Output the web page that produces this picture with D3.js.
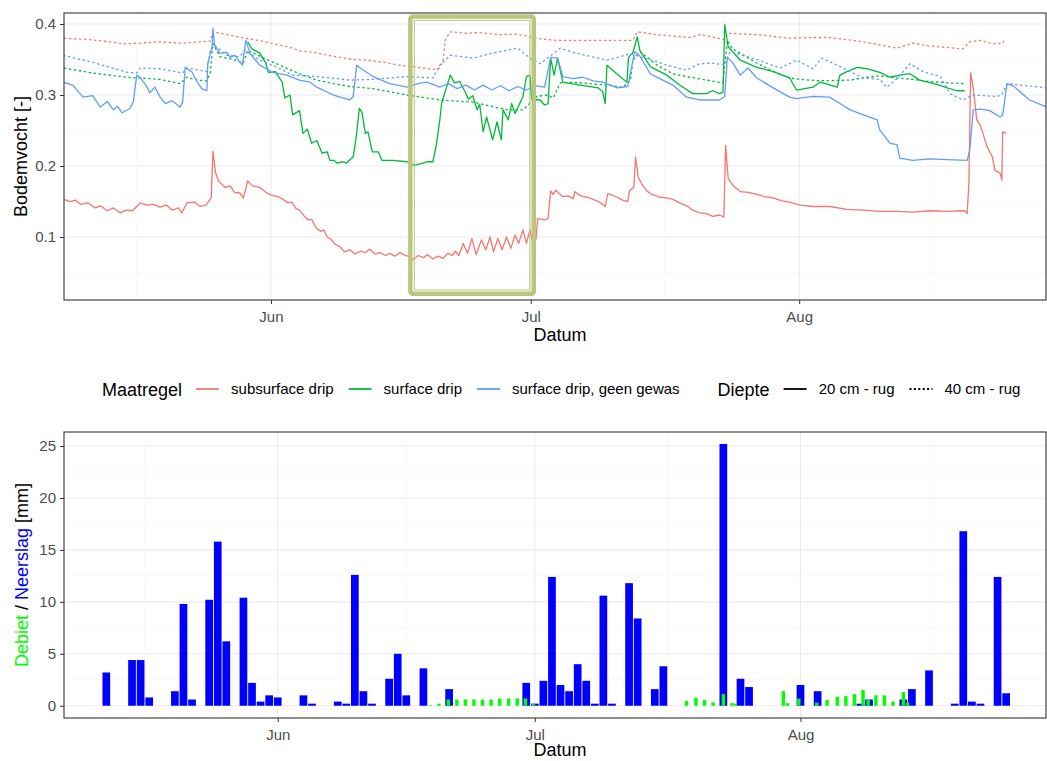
<!DOCTYPE html>
<html lang="nl">
<head>
<meta charset="UTF-8">
<title>Bodemvocht en neerslag</title>
<script src="https://d3js.org/d3.v7.min.js"></script>
<style>
    body { margin: 0; background: #fff; }
    svg { font-family: "Liberation Sans", Arial, sans-serif; }
    .grid-major { stroke: #ebebeb; stroke-width: 1.1; }
    .grid-minor { stroke: #f4f4f4; stroke-width: 0.6; }
    .axis .tick text { fill: #4d4d4d; font-size: 15px; }
    .axis .tick line { stroke: #333; stroke-width: 1; }
    .frame { fill: none; stroke: #333; stroke-width: 1.1; }
    .axis-title { font-size: 18px; fill: #000; }
    .legend-title { font-size: 18px; fill: #000; }
    .legend-label { font-size: 15px; fill: #000; }
</style>
</head>
<body>
<svg id="chart" width="1047" height="761"></svg>
<script>
// tijd in dagen na 1 juni (negatief = mei)
const maatregelen = ["subsurface drip", "surface drip", "surface drip, geen gewas"];
const dieptes = ["20 cm - rug", "40 cm - rug"];
const maandTicks = ["2018-06-01", "2018-07-01", "2018-08-01"];
const maandGrenzen = ["2018-05-01", "2018-06-01", "2018-07-01", "2018-08-01", "2018-09-01"];
const bodemTicks = [0.1, 0.2, 0.3, 0.4];
const bodemMinor = [0.05, 0.15, 0.25, 0.35];
const neerslagTicks = [0, 5, 10, 15, 20, 25];
const neerslagMinor = [2.5, 7.5, 12.5, 17.5, 22.5];

// subsurface drip, 20 cm
const subsurface20 = [[-23.9,0.153],[-23.2,0.150],[-22.6,0.152],[-22.0,0.146],[-21.1,0.148],[-20.3,0.141],[-19.7,0.144],[-18.9,0.137],[-18.2,0.141],[-17.4,0.134],[-16.7,0.138],[-16.0,0.137],[-15.1,0.148],[-14.3,0.145],[-13.6,0.146],[-12.8,0.142],[-12.1,0.145],[-11.4,0.138],[-10.7,0.141],[-10.3,0.134],[-9.7,0.148],[-8.8,0.149],[-8.2,0.143],[-7.5,0.145],[-6.9,0.155],[-6.7,0.221],[-6.4,0.19],[-6.0,0.178],[-5.3,0.170],[-4.7,0.172],[-4.2,0.163],[-3.6,0.162],[-3.2,0.155],[-2.9,0.168],[-2.7,0.179],[-2.1,0.172],[-1.3,0.170],[-0.6,0.163],[0.0,0.159],[0.8,0.157],[1.4,0.153],[2.0,0.148],[2.4,0.149],[2.9,0.140],[3.3,0.138],[3.8,0.130],[4.3,0.124],[4.7,0.125],[5.2,0.113],[5.7,0.108],[6.1,0.110],[6.5,0.100],[6.9,0.097],[7.4,0.090],[8.0,0.086],[8.5,0.079],[9.1,0.082],[9.7,0.076],[10.3,0.080],[10.9,0.078],[11.4,0.083],[12.0,0.076],[12.6,0.078],[13.2,0.074],[13.7,0.077],[14.3,0.073],[14.9,0.078],[15.5,0.074],[16.1,0.072],[16.4,0.068],[17.0,0.074],[17.6,0.071],[18.1,0.075],[18.7,0.069],[19.3,0.073],[19.9,0.070],[20.4,0.077],[20.9,0.074],[21.3,0.080],[21.7,0.074],[22.2,0.091],[22.7,0.077],[23.2,0.098],[23.7,0.075],[24.3,0.096],[24.8,0.082],[25.3,0.100],[25.7,0.079],[26.2,0.098],[26.7,0.082],[27.2,0.100],[27.7,0.084],[28.2,0.103],[28.6,0.091],[29.1,0.110],[29.5,0.091],[29.9,0.110],[30.2,0.094],[30.6,0.097],[30.8,0.126],[31.3,0.125],[31.6,0.124],[32.0,0.126],[32.3,0.165],[32.6,0.160],[32.9,0.166],[33.3,0.161],[33.7,0.157],[34.3,0.158],[34.9,0.154],[35.1,0.164],[35.5,0.160],[36.0,0.157],[36.6,0.156],[37.2,0.153],[37.8,0.150],[38.3,0.146],[38.6,0.143],[38.9,0.161],[39.4,0.159],[40.0,0.156],[40.6,0.152],[41.2,0.150],[41.4,0.165],[41.9,0.170],[42.1,0.213],[42.4,0.185],[42.8,0.175],[43.4,0.165],[44.0,0.160],[44.9,0.156],[45.7,0.155],[46.4,0.153],[47.2,0.148],[48.0,0.144],[48.7,0.138],[49.5,0.134],[50.3,0.133],[51.0,0.129],[51.8,0.131],[52.3,0.128],[52.5,0.229],[52.8,0.182],[53.4,0.172],[54.2,0.164],[55.1,0.163],[56.1,0.160],[57.0,0.157],[58.0,0.155],[59.0,0.151],[59.9,0.149],[61.1,0.145],[62.6,0.143],[64.5,0.143],[66.5,0.139],[68.4,0.138],[70.3,0.136],[72.3,0.136],[74.1,0.135],[76.1,0.137],[78.1,0.136],[80.1,0.137],[80.4,0.133],[80.6,0.177],[80.8,0.331],[81.1,0.31],[81.5,0.265],[81.9,0.258],[82.7,0.227],[83.3,0.213],[83.6,0.194],[84.2,0.19],[84.4,0.18],[84.5,0.248],[84.9,0.246]];

// subsurface drip, 40 cm
const subsurface40 = [[-23.9,0.380],[-21,0.378],[-18,0.374],[-17,0.372],[-15,0.373],[-13,0.375],[-10.5,0.373],[-8,0.375],[-7.0,0.376],[-6.7,0.389],[-5,0.385],[-3.5,0.381],[-1,0.376],[0,0.373],[2,0.368],[3.3,0.362],[5,0.36],[7,0.355],[9.5,0.35],[11.1,0.349],[13,0.346],[14.9,0.342],[17,0.339],[18.7,0.336],[19.5,0.338],[19.9,0.35],[20.1,0.377],[20.7,0.389],[22.6,0.387],[24,0.388],[26.4,0.385],[28,0.386],[29.6,0.383],[31.1,0.379],[33,0.377],[35,0.377],[38.8,0.377],[41.8,0.377],[42.3,0.389],[44.6,0.385],[46.5,0.383],[48.4,0.381],[49.5,0.385],[50.5,0.383],[52.3,0.378],[52.8,0.387],[56.1,0.385],[59.9,0.380],[62.6,0.381],[64.5,0.381],[68.4,0.375],[70.5,0.370],[72.3,0.366],[74.1,0.373],[76,0.369],[78,0.367],[79.9,0.365],[80.7,0.375],[81.9,0.377],[83.4,0.372],[84.5,0.373],[84.8,0.380]];

// surface drip, 20 cm
const surface20 = [[-2.7,0.375],[-2.2,0.365],[-1.3,0.359],[-0.6,0.345],[-0.3,0.332],[0.5,0.333],[1.3,0.318],[1.6,0.296],[2.2,0.300],[2.5,0.272],[3.3,0.278],[3.7,0.246],[4.2,0.252],[4.7,0.232],[5.3,0.236],[5.9,0.218],[6.5,0.220],[6.8,0.208],[7.3,0.208],[7.6,0.204],[8.3,0.206],[8.7,0.204],[9.5,0.213],[9.9,0.246],[10.2,0.281],[10.5,0.276],[10.9,0.246],[11.2,0.248],[11.7,0.220],[12.4,0.220],[12.8,0.208],[14.1,0.208],[15.7,0.206],[16.6,0.201],[18.0,0.206],[18.7,0.206],[19.1,0.230],[19.5,0.265],[19.7,0.288],[20.7,0.328],[21.2,0.317],[21.8,0.319],[22.4,0.305],[22.8,0.294],[23.3,0.299],[23.8,0.279],[24.1,0.287],[24.5,0.248],[24.9,0.269],[25.6,0.237],[26.1,0.262],[26.6,0.237],[26.8,0.279],[27.4,0.265],[27.8,0.288],[28.2,0.274],[28.8,0.290],[29.1,0.298],[29.5,0.326],[29.9,0.328],[30.1,0.294],[31.1,0.293],[31.6,0.286],[32.0,0.288],[32.3,0.352],[32.7,0.328],[33.1,0.352],[33.7,0.318],[35.7,0.314],[37.8,0.31],[38.3,0.305],[38.6,0.288],[38.8,0.342],[40.3,0.326],[41.1,0.318],[41.3,0.353],[41.8,0.36],[42.3,0.382],[42.6,0.363],[43.8,0.34],[45.7,0.328],[47.2,0.314],[48.7,0.302],[50.3,0.302],[51.0,0.306],[51.8,0.302],[52.2,0.304],[52.4,0.399],[52.8,0.368],[54.2,0.349],[56.1,0.339],[58.0,0.333],[59.9,0.324],[60.7,0.307],[62.6,0.311],[63.4,0.318],[65.4,0.311],[65.7,0.328],[66.5,0.333],[67.7,0.339],[68.8,0.337],[70.3,0.332],[71.5,0.325],[72.6,0.328],[73.8,0.33],[74.9,0.321],[76.9,0.315],[78.1,0.31],[79.2,0.306],[80.1,0.306]];

// surface drip, 40 cm
const surface40 = [[-23.9,0.338],[-20.6,0.331],[-16.6,0.325],[-14,0.323],[-12.8,0.322],[-10.5,0.316],[-9.7,0.325],[-8.5,0.321],[-7.4,0.320],[-7.0,0.332],[-6.7,0.373],[-5.9,0.354],[-4.4,0.350],[-3.2,0.345],[-2.7,0.363],[-0.5,0.350],[1.4,0.34],[3.3,0.33],[5.3,0.321],[7.2,0.316],[9.1,0.312],[11.8,0.309],[15.7,0.300],[19.5,0.293],[23.3,0.29],[27.3,0.279],[29.1,0.279],[30.7,0.298],[31.9,0.300],[32.6,0.296],[33.4,0.317],[34.9,0.318],[38.8,0.314],[40.6,0.311],[41.5,0.32],[41.8,0.349],[42.6,0.361],[44.6,0.342],[46.4,0.330],[48.4,0.325],[50.3,0.321],[52.2,0.317],[52.7,0.377],[53.3,0.365],[56.1,0.345],[58.0,0.333],[59.9,0.324],[61.1,0.322],[63.4,0.32],[66.9,0.321],[68.8,0.325],[70.3,0.327],[72.3,0.324],[74.1,0.322],[76.1,0.319],[78.1,0.317],[80.1,0.316]];

// surface drip, geen gewas, 20 cm
const geenGewas20 = [[-24.0,0.318],[-22.9,0.314],[-21.7,0.297],[-20.6,0.299],[-19.7,0.283],[-18.9,0.291],[-18.2,0.279],[-17.7,0.284],[-17.2,0.275],[-16.3,0.281],[-15.9,0.290],[-15.5,0.328],[-15.1,0.325],[-14.3,0.311],[-14.0,0.303],[-13.4,0.311],[-12.8,0.297],[-12.2,0.288],[-11.4,0.292],[-10.5,0.283],[-10.2,0.29],[-9.9,0.339],[-9.1,0.332],[-8.5,0.318],[-8.0,0.309],[-7.4,0.306],[-7.3,0.344],[-6.8,0.368],[-6.7,0.394],[-6.5,0.37],[-5.9,0.359],[-5.1,0.36],[-4.7,0.353],[-4.2,0.356],[-3.3,0.342],[-2.9,0.377],[-2.4,0.358],[-1.3,0.342],[0.2,0.332],[1.8,0.328],[3.3,0.321],[4.5,0.318],[5.3,0.311],[7.2,0.30],[9.1,0.293],[9.5,0.298],[9.9,0.342],[10.3,0.338],[11.8,0.326],[13.7,0.316],[15.7,0.311],[17.0,0.316],[18.0,0.318],[19.5,0.311],[20.5,0.316],[21.5,0.309],[22.5,0.314],[23.5,0.307],[24.5,0.314],[25.5,0.307],[26.5,0.313],[27.5,0.306],[28.5,0.312],[29.5,0.307],[30.5,0.313],[31.6,0.311],[32.3,0.353],[33.1,0.352],[33.7,0.326],[34.9,0.323],[36.0,0.325],[37.2,0.320],[38.3,0.318],[40.0,0.31],[41.2,0.312],[42.0,0.361],[42.6,0.355],[43.8,0.33],[44.9,0.323],[46.4,0.314],[48.0,0.297],[49.5,0.293],[51.8,0.293],[52.4,0.298],[52.7,0.353],[53.3,0.346],[54.2,0.328],[55.1,0.338],[56.1,0.324],[58.0,0.31],[59.9,0.297],[60.7,0.295],[62.6,0.298],[64.5,0.297],[65.7,0.288],[66.9,0.279],[68.4,0.272],[70.0,0.265],[70.3,0.251],[71.5,0.232],[72.3,0.23],[72.6,0.211],[74.1,0.208],[76,0.21],[78.1,0.209],[80.4,0.208],[80.7,0.223],[81.1,0.279],[81.9,0.28],[83.0,0.278],[84.2,0.269],[84.5,0.272],[85.0,0.316],[85.7,0.313],[87.6,0.293],[89.6,0.283]];

// surface drip, geen gewas, 40 cm
const geenGewas40 = [[-24.0,0.356],[-20.6,0.346],[-16.6,0.332],[-15.5,0.331],[-15.1,0.338],[-12.8,0.337],[-10.2,0.331],[-9.7,0.338],[-7.4,0.333],[-7.0,0.363],[-6.5,0.37],[-5.1,0.356],[-3.6,0.354],[-3.0,0.363],[-1.3,0.349],[0.7,0.339],[2.5,0.328],[5.3,0.326],[9.1,0.321],[11.8,0.322],[15.7,0.326],[18.7,0.324],[19.5,0.342],[20.7,0.356],[23.3,0.352],[25.3,0.358],[28.5,0.366],[29.9,0.352],[31.1,0.344],[33.4,0.366],[34.9,0.36],[38.8,0.349],[41.5,0.358],[42.3,0.355],[44.6,0.347],[45.7,0.342],[48.0,0.335],[49.5,0.344],[51.0,0.345],[52.4,0.342],[53.0,0.361],[56.1,0.35],[58.8,0.338],[60.7,0.349],[62.6,0.337],[63.6,0.352],[65.4,0.342],[66.9,0.333],[68.4,0.324],[70.3,0.322],[71.1,0.311],[72.3,0.323],[73.8,0.344],[75.3,0.333],[77.3,0.326],[78.4,0.302],[79.9,0.293],[81.1,0.30],[83.8,0.298],[84.4,0.30],[85.0,0.316],[86.5,0.314],[89.6,0.31]];

// neerslag per dag [mm]
const neerslagDag = [-20,-17,-16,-15,-12,-11,-10,-8,-7,-6,-4,-3,-2,-1,0,3,4,7,8,9,10,11,13,14,15,17,20,29,30,31,32,33,34,35,36,37,38,39,41,42,44,45,52,54,55,61,63,68,69,73,74,76,79,80,81,82,84,85];
const neerslagMm = [3.2,4.4,4.4,0.8,1.4,9.8,0.6,10.2,15.8,6.2,10.4,2.2,0.4,1.0,0.8,1.0,0.2,0.4,0.2,12.6,1.4,0.2,2.6,5.0,1.0,3.6,1.6,2.2,0.2,2.4,12.4,2.0,1.4,4.0,2.4,0.2,10.6,0.2,11.8,8.4,1.6,3.8,25.2,2.6,1.8,2.0,1.4,0.2,0.6,0.6,1.6,3.4,0.2,16.8,0.4,0.2,12.4,1.2];

// debiet (irrigatie) [mm]
const debietDag = [17.8,18.8,19.9,20.9,21.9,22.9,23.9,24.9,25.9,26.95,27.95,28.9,29.8,47.7,48.8,49.8,50.8,52.0,53.0,53.4,59.0,59.5,60.8,62.9,64.1,65.3,66.3,67.3,68.3,68.9,69.8,70.8,71.8,73.0,73.5];
const debietMm = [0.05,0.2,0.6,0.6,0.6,0.6,0.6,0.6,0.7,0.7,0.7,0.7,0.2,0.45,0.77,0.55,0.32,1.12,0.25,0.2,1.41,0.25,0.68,0.3,0.55,0.87,0.92,1.12,1.51,0.55,1.0,1.0,0.4,1.32,0.3];

// gemarkeerde periode (kader in bovenste grafiek)
const kaderDagen = [16.1, 30.35];
const kaderBodem = [0.020, 0.4105];

const series = [
    {maatregel: 0, diepte: 0, values: subsurface20},
    {maatregel: 0, diepte: 1, values: subsurface40},
    {maatregel: 1, diepte: 0, values: surface20},
    {maatregel: 1, diepte: 1, values: surface40},
    {maatregel: 2, diepte: 0, values: geenGewas20},
    {maatregel: 2, diepte: 1, values: geenGewas40}
];

const kleuren = ["#F8766D", "#00BA38", "#619CFF"];
const streep = [null, "2.4,2.6"];

const basis = new Date(2018, 5, 1);
function dag(d) { return new Date(basis.getTime() + d * 864e5); }

const svg = d3.select("#chart");

const boven = {left: 64, right: 1046, top: 13, bottom: 300};
const onder = {left: 64, right: 1046, top: 432, bottom: 718};

const xBoven = d3.scaleTime().domain([dag(-23.9), dag(89.5)]).range([boven.left, boven.right]);
const yBoven = d3.scaleLinear().domain([0.0113, 0.4155]).range([boven.bottom, boven.top]);
const xOnder = d3.scaleTime().domain([dag(-24.94), dag(89.65)]).range([onder.left, onder.right]);
const yOnder = d3.scaleLinear().domain([-1.18, 26.35]).range([onder.bottom, onder.top]);

const maanden = maandTicks.map(s => d3.timeParse("%Y-%m-%d")(s));
const grenzen = maandGrenzen.map(s => d3.timeParse("%Y-%m-%d")(s));
const maandMidden = d3.pairs(grenzen).map(p => new Date((p[0].getTime() + p[1].getTime()) / 2));

function paneel(p, x, y, yTicks, yMinor, yFormat, id) {
    const g = svg.append("g");
    // rasterlijnen
    g.selectAll(".ym").data(yMinor).enter().append("line").attr("class", "grid-minor")
        .attr("x1", p.left).attr("x2", p.right).attr("y1", d => y(d)).attr("y2", d => y(d));
    g.selectAll(".xm").data(maandMidden).enter().append("line").attr("class", "grid-minor")
        .attr("y1", p.top).attr("y2", p.bottom).attr("x1", d => x(d)).attr("x2", d => x(d));
    g.selectAll(".yM").data(yTicks).enter().append("line").attr("class", "grid-major")
        .attr("x1", p.left).attr("x2", p.right).attr("y1", d => y(d)).attr("y2", d => y(d));
    g.selectAll(".xM").data(maanden).enter().append("line").attr("class", "grid-major")
        .attr("y1", p.top).attr("y2", p.bottom).attr("x1", d => x(d)).attr("x2", d => x(d));

    svg.append("clipPath").attr("id", id).append("rect")
        .attr("x", p.left).attr("y", p.top).attr("width", p.right - p.left).attr("height", p.bottom - p.top);

    const xAs = svg.append("g").attr("class", "axis").attr("transform", "translate(0," + p.bottom + ")")
        .call(d3.axisBottom(x).tickValues(maanden).tickFormat(d3.timeFormat("%b")).tickSize(4).tickPadding(7));
    xAs.select(".domain").remove();
    const yAs = svg.append("g").attr("class", "axis").attr("transform", "translate(" + p.left + ",0)")
        .call(d3.axisLeft(y).tickValues(yTicks).tickFormat(yFormat).tickSize(4).tickPadding(4));
    yAs.select(".domain").remove();
    return g;
}

// ---- bovenste grafiek: bodemvocht ----
paneel(boven, xBoven, yBoven, bodemTicks, bodemMinor, d3.format(".1f"), "clipBoven");

const lijn = d3.line()
    .x(d => xBoven(dag(d[0])))
    .y(d => yBoven(d[1]));

svg.append("g").attr("clip-path", "url(#clipBoven)")
    .selectAll("path").data(series).enter().append("path")
    .attr("d", d => lijn(d.values))
    .attr("fill", "none")
    .attr("stroke", d => kleuren[d.maatregel])
    .attr("stroke-width", 1.3)
    .attr("stroke-linejoin", "round")
    .attr("stroke-dasharray", d => streep[d.diepte]);

// kader rond de periode
const kx0 = xBoven(dag(kaderDagen[0])), kx1 = xBoven(dag(kaderDagen[1]));
const ky0 = yBoven(kaderBodem[1]), ky1 = yBoven(kaderBodem[0]);
svg.append("rect").attr("x", kx0).attr("y", ky0).attr("width", kx1 - kx0).attr("height", ky1 - ky0)
    .attr("rx", 2.5).attr("fill", "none").attr("stroke", "#b7c77d").attr("stroke-width", 4.5);
svg.append("rect").attr("x", kx0 + 4).attr("y", ky0 + 3.8).attr("width", kx1 - kx0 - 8).attr("height", ky1 - ky0 - 7.6)
    .attr("fill", "none").attr("stroke", "#b7c77d").attr("stroke-width", 1);

svg.append("rect").attr("class", "frame")
    .attr("x", boven.left).attr("y", boven.top).attr("width", boven.right - boven.left).attr("height", boven.bottom - boven.top);

svg.append("text").attr("class", "axis-title").attr("text-anchor", "middle")
    .attr("x", 560).attr("y", 341).text("Datum");
svg.append("text").attr("class", "axis-title").attr("text-anchor", "middle")
    .attr("transform", "translate(27," + (boven.top + boven.bottom) / 2 + ") rotate(-90)")
    .text("Bodemvocht [-]");

// ---- legenda ----
const legenda = svg.append("g").attr("transform", "translate(0,389)");
let lx = 102;
function legTitel(t) {
    const el = legenda.append("text").attr("class", "legend-title").attr("x", lx).attr("y", 6.5).text(t);
    lx += el.node().getComputedTextLength() + 14;
}
function legItem(t, kleur, dash) {
    legenda.append("line").attr("x1", lx).attr("x2", lx + 23).attr("y1", 0).attr("y2", 0)
        .attr("stroke", kleur).attr("stroke-width", 1.8).attr("stroke-dasharray", dash);
    lx += 35;
    const el = legenda.append("text").attr("class", "legend-label").attr("x", lx).attr("y", 5.3).text(t);
    lx += el.node().getComputedTextLength() + 15;
}
legTitel("Maatregel");
maatregelen.forEach((m, i) => legItem(m, kleuren[i], null));
lx += 23;
legTitel("Diepte");
dieptes.forEach((d, i) => legItem(d, "#000", i ? "2,2.4" : null));

// ---- onderste grafiek: debiet / neerslag ----
paneel(onder, xOnder, yOnder, neerslagTicks, neerslagMinor, d3.format("d"), "clipOnder");

const balken = svg.append("g").attr("clip-path", "url(#clipOnder)");
balken.selectAll(".neerslag").data(neerslagDag).enter().append("rect")
    .attr("x", d => xOnder(dag(d - 0.45)))
    .attr("width", d => xOnder(dag(d + 0.45)) - xOnder(dag(d - 0.45)))
    .attr("y", (d, i) => yOnder(neerslagMm[i]))
    .attr("height", (d, i) => yOnder(0) - yOnder(neerslagMm[i]))
    .attr("fill", "#0000FF");
balken.selectAll(".debiet").data(debietDag).enter().append("rect")
    .attr("x", d => xOnder(dag(d - 0.2)))
    .attr("width", d => xOnder(dag(d + 0.2)) - xOnder(dag(d - 0.2)))
    .attr("y", (d, i) => yOnder(debietMm[i]))
    .attr("height", (d, i) => yOnder(0) - yOnder(debietMm[i]))
    .attr("fill", "#00FF00");

svg.append("rect").attr("class", "frame")
    .attr("x", onder.left).attr("y", onder.top).attr("width", onder.right - onder.left).attr("height", onder.bottom - onder.top);

svg.append("text").attr("class", "axis-title").attr("text-anchor", "middle")
    .attr("x", 560).attr("y", 756).text("Datum");
const yTitel = svg.append("text").attr("class", "axis-title").attr("text-anchor", "middle")
    .attr("transform", "translate(28," + (onder.top + onder.bottom) / 2 + ") rotate(-90)");
yTitel.append("tspan").attr("fill", "#00FF00").text("Debiet");
yTitel.append("tspan").text(" / ");
yTitel.append("tspan").attr("fill", "#0000FF").text("Neerslag");
yTitel.append("tspan").text(" [mm]");
</script>
</body>
</html>
